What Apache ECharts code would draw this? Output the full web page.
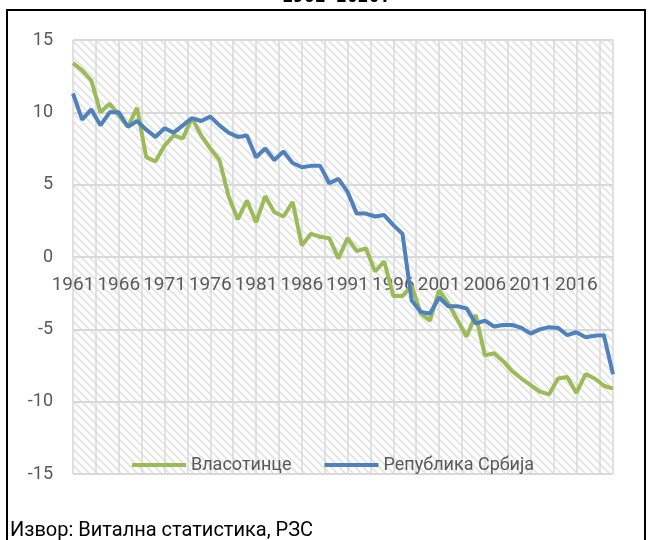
<!DOCTYPE html>
<html>
<head>
<meta charset="utf-8">
<script src="https://cdn.jsdelivr.net/npm/echarts@6/dist/echarts.min.js"></script>
<style>
  html, body { margin: 0; padding: 0; background: #fff; }
  #chart { width: 651px; height: 540px; }
</style>
</head>
<body>
<div id="chart"></div>
<script>
  // years 1961-2020
  var years = [];
  for (var y = 1961; y <= 2020; y++) years.push(String(y));

  var seriesNames = ['Власотинце', 'Република Србија'];

  var vlasotince = [
    13.4, 12.9, 12.2, 10.0, 10.6, 9.8, 9.0, 10.3, 6.9, 6.6,
    7.7, 8.4, 8.2, 9.6, 8.4, 7.5, 6.7, 4.2, 2.6, 3.9,
    2.4, 4.2, 3.1, 2.8, 3.8, 0.8, 1.6, 1.4, 1.3, -0.1,
    1.3, 0.4, 0.6, -1.0, -0.3, -2.7, -2.7, -2.0, -3.9, -4.4,
    -2.3, -3.2, -4.35, -5.5, -4.0, -6.8, -6.65, -7.2, -7.9, -8.4,
    -8.85, -9.3, -9.5, -8.4, -8.3, -9.4, -8.1, -8.4, -8.9, -9.1
  ];

  var srbija = [
    11.3, 9.5, 10.2, 9.1, 10.0, 10.0, 9.0, 9.4, 8.8, 8.3,
    8.9, 8.6, 9.1, 9.6, 9.4, 9.7, 9.1, 8.6, 8.3, 8.4,
    6.9, 7.5, 6.7, 7.3, 6.5, 6.2, 6.3, 6.3, 5.1, 5.4,
    4.5, 3.0, 3.0, 2.8, 2.9, 2.2, 1.6, -3.0, -3.8, -3.9,
    -2.8, -3.4, -3.4, -3.55, -4.6, -4.4, -4.8, -4.7, -4.7, -4.9,
    -5.3, -5.0, -4.85, -4.9, -5.4, -5.2, -5.55, -5.45, -5.4, -8.1
  ];

  var colors = ['#9BBB59', '#4F81BD'];
  var gridColor = '#d9d9d9';
  var textColor = '#595959';
  var font = 'Roboto, "Noto Sans", sans-serif';

  // diagonal hatch fill of the plot area
  function hatch() {
    var c = document.createElement('canvas');
    c.width = 8; c.height = 8;
    var ctx = c.getContext('2d');
    ctx.fillStyle = '#fff';
    ctx.fillRect(0, 0, 8, 8);
    ctx.strokeStyle = '#e3e3e3';
    ctx.lineWidth = 1.6;
    ctx.beginPath();
    ctx.moveTo(-2, -2); ctx.lineTo(10, 10);
    ctx.moveTo(-10, -2); ctx.lineTo(2, 10);
    ctx.moveTo(6, -2); ctx.lineTo(18, 10);
    ctx.stroke();
    return { image: c, repeat: 'repeat' };
  }

  var chart = echarts.init(document.getElementById('chart'));
  chart.setOption({
    animation: false,
    backgroundColor: '#fff',
    textStyle: { fontFamily: font },
    grid: {
      left: 73, right: 38, top: 40, bottom: 66,
      show: true,
      backgroundColor: hatch(),
      borderWidth: 0
    },
    graphic: [
      {
        type: 'rect',
        shape: { x: 7, y: 10, width: 638, height: 560 },
        style: { fill: null, stroke: '#000', lineWidth: 2 },
        silent: true
      },
      {
        type: 'text',
        left: 282, top: -12,
        style: { text: '1961–2020.', font: 'bold 18px "DejaVu Sans Mono", monospace', fill: '#000' }
      },
      {
        type: 'text',
        left: 10, top: 521,
        style: { text: 'Извор: Витална статистика, РЗС', font: '20px ' + font, fill: '#000' }
      }
    ],
    legend: {
      data: seriesNames,
      left: 127,
      top: 451,
      icon: 'rect',
      itemWidth: 54,
      itemHeight: 4,
      itemGap: 33,
      textStyle: { color: textColor, fontSize: 18, fontFamily: font }
    },
    xAxis: [
      {
        type: 'category',
        data: years,
        boundaryGap: false,
        offset: -217,
        axisLine: { onZero: false, lineStyle: { color: gridColor, width: 2 } },
        axisTick: { show: false },
        axisLabel: { interval: 4, color: textColor, fontSize: 19, margin: 19 },
        splitLine: { show: false }
      },
      {
        type: 'value',
        min: 0, max: 59, interval: 2.5,
        show: true,
        position: 'top',
        axisLine: { show: false, onZero: false },
        axisTick: { show: false },
        axisLabel: { show: false },
        splitLine: { show: true, lineStyle: { color: gridColor, width: 1.5 } }
      }
    ],
    yAxis: {
      type: 'value',
      min: -15, max: 15, interval: 5,
      axisLine: { show: false, onZero: false },
      axisTick: { show: false },
      axisLabel: { color: textColor, fontSize: 18, margin: 20 },
      splitLine: { lineStyle: { color: gridColor, width: 2 } }
    },
    series: [
      {
        name: seriesNames[0],
        type: 'line',
        data: vlasotince,
        symbol: 'none',
        color: colors[0],
        lineStyle: { width: 4, color: colors[0] }
      },
      {
        name: seriesNames[1],
        type: 'line',
        data: srbija,
        symbol: 'none',
        color: colors[1],
        lineStyle: { width: 4, color: colors[1] }
      }
    ]
  });
</script>
</body>
</html>
